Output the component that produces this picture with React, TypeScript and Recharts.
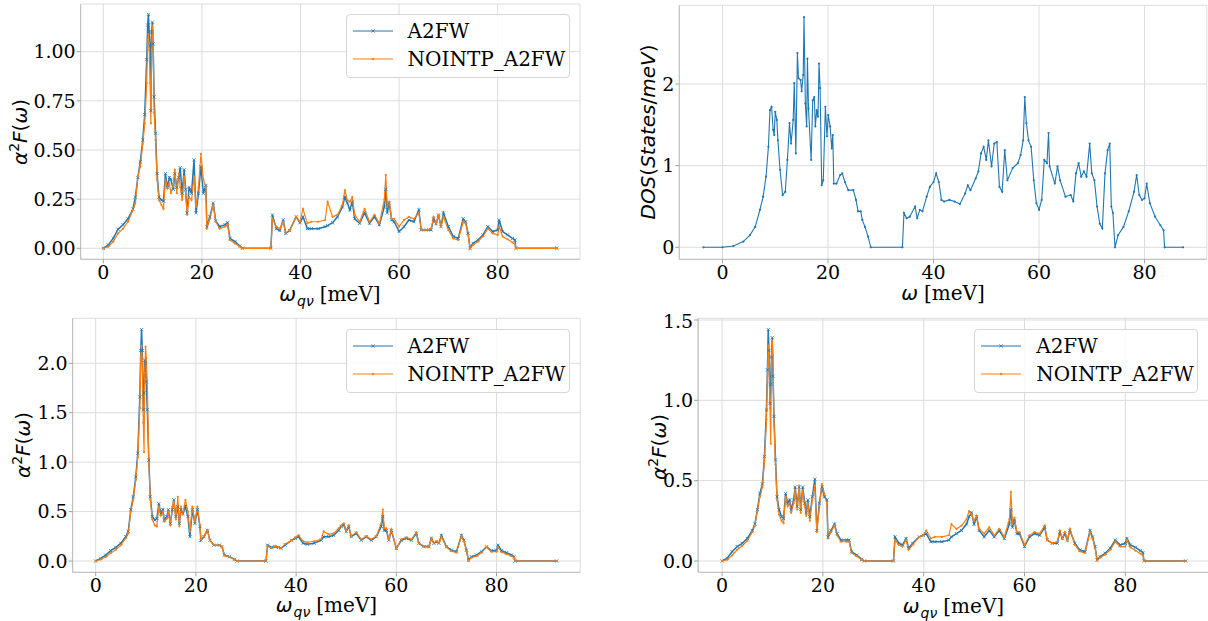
import React from 'react';
import { LineChart, Line, XAxis, YAxis, CartesianGrid } from 'recharts';

// ---------- data ----------
const omegaQv = [
  0, 1, 2, 3, 4, 5, 6, 6.5, 7, 7.5,
  8, 8.4, 8.8, 9.0, 9.15, 9.3, 9.5, 9.65, 9.8, 9.95,
  10.1, 10.3, 10.6, 10.9, 11.3, 11.8, 12.2, 12.6, 13.0, 13.4,
  13.7, 14.2, 14.5, 14.9, 15.3, 15.6, 16.0, 16.4, 16.7, 17.0,
  17.4, 17.9, 18.4, 18.8, 19.3, 19.8, 20.3, 20.8, 21.0, 21.6,
  22.3, 22.8, 23.6, 24.7, 25.2, 25.7, 26.7, 27.7, 28.2, 34.0,
  34.3, 35.1, 35.8, 36.5, 37.0, 37.8, 39.1, 39.9, 40.5, 41.4,
  42.2, 43.6, 45.0, 45.5, 46.5, 47.5, 48.5, 49.0, 49.5, 50.0,
  50.5, 51.0, 52.0, 53.0, 54.0, 55.0, 56.0, 57.0, 57.3, 57.6,
  58.0, 58.5, 59.0, 60.0, 61.0, 62.0, 63.0, 64.0, 64.5, 65.5,
  66.5, 67.0, 67.5, 68.0, 68.5, 69.0, 70.0, 71.0, 72.0, 73.0,
  73.5, 74.0, 74.4, 75.0, 76.0, 77.0, 78.0, 79.0, 80.0, 80.3,
  81.0, 82.0, 83.0, 83.5, 83.7, 92.0,
];

const a2fwTopLeft = [
  0, 0.017, 0.05, 0.097, 0.12, 0.15, 0.2, 0.26, 0.36, 0.44,
  0.55, 0.68, 0.96, 1.135, 1.19, 1.10, 1.03, 0.70, 1.10, 1.15,
  1.04, 0.77, 0.585, 0.38, 0.26, 0.245, 0.24, 0.38, 0.31, 0.36,
  0.35, 0.30, 0.38, 0.31, 0.36, 0.41, 0.28, 0.40, 0.30, 0.18,
  0.31, 0.28, 0.45, 0.18, 0.28, 0.415, 0.28, 0.32, 0.11, 0.16,
  0.23, 0.14, 0.11, 0.12, 0.13, 0.05, 0.034, 0.012, 0, 0,
  0.17, 0.10, 0.09, 0.145, 0.076, 0.09, 0.16, 0.13, 0.16, 0.10,
  0.10, 0.10, 0.11, 0.115, 0.13, 0.16, 0.21, 0.26, 0.23, 0.195,
  0.237, 0.15, 0.127, 0.18, 0.127, 0.16, 0.12, 0.21, 0.30, 0.18,
  0.23, 0.144, 0.135, 0.085, 0.11, 0.144, 0.135, 0.195, 0.093, 0.093,
  0.093, 0.15, 0.125, 0.17, 0.11, 0.18, 0.11, 0.06, 0.05, 0.15,
  0.135, 0.076, 0, 0.025, 0.042, 0.068, 0.11, 0.085, 0.093, 0.144,
  0.085, 0.068, 0.05, 0.042, 0, 0,
];
const nointpTopLeft = [
  0, 0.008, 0.034, 0.076, 0.10, 0.135, 0.195, 0.23, 0.365, 0.415,
  0.53, 0.635, 0.84, 1.06, 1.09, 1.01, 0.84, 0.635, 1.01, 1.13,
  1.09, 0.69, 0.55, 0.35, 0.245, 0.22, 0.20, 0.35, 0.305, 0.33,
  0.28, 0.32, 0.40, 0.28, 0.38, 0.31, 0.245, 0.365, 0.29, 0.17,
  0.26, 0.245, 0.365, 0.21, 0.31, 0.48, 0.35, 0.31, 0.10, 0.15,
  0.22, 0.135, 0.10, 0.11, 0.12, 0.042, 0.025, 0.008, 0, 0,
  0.15, 0.11, 0.10, 0.135, 0.076, 0.093, 0.16, 0.135, 0.20, 0.127,
  0.135, 0.135, 0.144, 0.237, 0.16, 0.17, 0.22, 0.296, 0.245, 0.237,
  0.26, 0.17, 0.135, 0.20, 0.135, 0.17, 0.127, 0.245, 0.373, 0.21,
  0.237, 0.15, 0.15, 0.11, 0.144, 0.16, 0.15, 0.18, 0.093, 0.093,
  0.10, 0.16, 0.127, 0.17, 0.11, 0.16, 0.093, 0.05, 0.042, 0.135,
  0.127, 0.068, 0, 0.017, 0.034, 0.06, 0.10, 0.076, 0.068, 0.11,
  0.06, 0.046, 0.029, 0.02, 0, 0,
];

const a2fwBottomLeft = [
  0, 0.027, 0.06, 0.105, 0.138, 0.18, 0.246, 0.30, 0.52, 0.65,
  0.85, 1.09, 1.66, 2.13, 2.34, 2.13, 1.53, 1.70, 2.03, 2.0,
  1.81, 1.53, 1.02, 0.65, 0.45, 0.415, 0.43, 0.58, 0.48, 0.52,
  0.415, 0.45, 0.52, 0.38, 0.52, 0.62, 0.45, 0.55, 0.38, 0.52,
  0.48, 0.55, 0.45, 0.246, 0.52, 0.38, 0.52, 0.35, 0.21, 0.246,
  0.31, 0.21, 0.16, 0.16, 0.145, 0.06, 0.044, 0.017, 0, 0,
  0.16, 0.138, 0.145, 0.138, 0.128, 0.16, 0.21, 0.23, 0.246, 0.18,
  0.17, 0.18, 0.21, 0.246, 0.246, 0.26, 0.31, 0.35, 0.365, 0.30,
  0.35, 0.246, 0.28, 0.21, 0.246, 0.21, 0.246, 0.35, 0.45, 0.31,
  0.31, 0.21, 0.31, 0.128, 0.21, 0.23, 0.21, 0.28, 0.18, 0.145,
  0.145, 0.23, 0.18, 0.195, 0.18, 0.26, 0.145, 0.11, 0.094, 0.26,
  0.21, 0.11, 0.01, 0.044, 0.06, 0.094, 0.145, 0.105, 0.11, 0.16,
  0.105, 0.084, 0.06, 0.044, 0, 0,
];
const nointpBottomLeft = [
  0, 0.015, 0.04, 0.08, 0.115, 0.16, 0.23, 0.28, 0.50, 0.62,
  0.82, 1.05, 1.55, 2.05, 2.18, 2.0, 1.4, 1.10, 1.90, 2.17,
  2.05, 1.80, 1.0, 0.62, 0.42, 0.36, 0.35, 0.55, 0.46, 0.50,
  0.40, 0.43, 0.50, 0.36, 0.55, 0.60, 0.42, 0.65, 0.35, 0.55,
  0.47, 0.62, 0.50, 0.30, 0.55, 0.40, 0.55, 0.36, 0.22, 0.25,
  0.31, 0.21, 0.16, 0.16, 0.14, 0.055, 0.04, 0.015, 0, 0,
  0.15, 0.13, 0.15, 0.14, 0.13, 0.17, 0.21, 0.24, 0.26, 0.20,
  0.19, 0.20, 0.22, 0.30, 0.27, 0.28, 0.33, 0.36, 0.38, 0.31,
  0.36, 0.25, 0.29, 0.22, 0.25, 0.22, 0.25, 0.38, 0.52, 0.33,
  0.33, 0.22, 0.32, 0.13, 0.22, 0.24, 0.22, 0.29, 0.18, 0.15,
  0.15, 0.23, 0.18, 0.20, 0.18, 0.24, 0.14, 0.10, 0.085, 0.25,
  0.20, 0.10, 0.005, 0.035, 0.05, 0.085, 0.14, 0.095, 0.095, 0.14,
  0.09, 0.07, 0.05, 0.035, 0, 0,
];

const a2fwBottomRight = [
  0, 0.017, 0.058, 0.09, 0.11, 0.14, 0.19, 0.23, 0.32, 0.42,
  0.48, 0.65, 0.94, 1.19, 1.44, 1.31, 0.98, 1.10, 1.27, 1.39,
  1.15, 0.90, 0.63, 0.40, 0.32, 0.276, 0.265, 0.42, 0.36, 0.38,
  0.32, 0.38, 0.46, 0.34, 0.46, 0.32, 0.46, 0.36, 0.30, 0.38,
  0.276, 0.40, 0.51, 0.19, 0.36, 0.46, 0.40, 0.38, 0.15, 0.19,
  0.23, 0.17, 0.13, 0.13, 0.13, 0.058, 0.037, 0.01, 0, 0,
  0.15, 0.11, 0.10, 0.14, 0.08, 0.11, 0.15, 0.16, 0.17, 0.12,
  0.12, 0.12, 0.13, 0.15, 0.17, 0.19, 0.23, 0.276, 0.30, 0.23,
  0.276, 0.19, 0.15, 0.19, 0.15, 0.19, 0.14, 0.23, 0.32, 0.21,
  0.255, 0.17, 0.17, 0.09, 0.15, 0.17, 0.16, 0.21, 0.13, 0.11,
  0.11, 0.18, 0.14, 0.17, 0.13, 0.19, 0.11, 0.068, 0.058, 0.19,
  0.15, 0.09, 0.006, 0.027, 0.048, 0.08, 0.13, 0.10, 0.11, 0.14,
  0.10, 0.085, 0.064, 0.052, 0, 0,
];
const nointpBottomRight = [
  0, 0.008, 0.035, 0.07, 0.095, 0.125, 0.18, 0.22, 0.31, 0.40,
  0.46, 0.62, 0.88, 1.15, 1.34, 1.25, 0.95, 0.73, 1.22, 1.37,
  1.28, 0.85, 0.60, 0.38, 0.29, 0.25, 0.235, 0.40, 0.34, 0.36,
  0.30, 0.36, 0.44, 0.32, 0.47, 0.30, 0.44, 0.34, 0.28, 0.36,
  0.25, 0.38, 0.47, 0.18, 0.34, 0.48, 0.42, 0.36, 0.14, 0.18,
  0.22, 0.16, 0.12, 0.12, 0.12, 0.05, 0.03, 0.008, 0, 0,
  0.13, 0.10, 0.09, 0.13, 0.07, 0.10, 0.15, 0.16, 0.19, 0.14,
  0.15, 0.15, 0.16, 0.23, 0.20, 0.22, 0.26, 0.31, 0.29, 0.25,
  0.28, 0.20, 0.17, 0.21, 0.16, 0.20, 0.15, 0.26, 0.43, 0.23,
  0.27, 0.18, 0.18, 0.10, 0.16, 0.18, 0.17, 0.22, 0.13, 0.11,
  0.12, 0.19, 0.14, 0.18, 0.13, 0.20, 0.10, 0.06, 0.05, 0.18,
  0.14, 0.08, 0.004, 0.02, 0.04, 0.07, 0.12, 0.09, 0.09, 0.13,
  0.085, 0.065, 0.045, 0.035, 0, 0,
];

const dosOmega = [
  -3.6, 0, 2.05, 3.95, 5.2, 6.2, 7.1, 7.7, 8.25, 8.7,
  9.0, 9.3, 9.6, 9.8, 10.0, 10.3, 10.5, 10.9, 11.4, 11.9,
  12.3, 12.7, 13.0, 13.4, 13.6, 13.9, 14.2, 14.4, 14.8, 15.0,
  15.3, 15.45, 15.7, 15.95, 16.1, 16.3, 16.8, 17.1, 17.4, 17.6,
  17.85, 18.1, 18.3, 18.5, 18.8, 19.1, 19.5, 19.8, 20.05, 20.4,
  20.7, 20.9, 21.1, 21.6, 22.3, 22.7, 23.2, 23.85, 24.8, 25.3,
  25.7, 26.2, 26.5, 27.0, 27.6, 28.1, 34.1, 34.4, 34.9, 35.5,
  36.5, 36.9, 37.4, 37.9, 38.7, 39.3, 40.0, 40.5, 41.0, 41.5,
  42.0, 43.0, 44.0, 45.0, 46.0, 46.5, 47.0, 48.0, 48.5, 49.0,
  49.5, 50.0, 50.4, 51.0, 51.5, 52.0, 52.5, 53.0, 53.5, 54.0,
  55.0, 56.0, 56.5, 57.0, 57.3, 57.6, 58.0, 58.5, 59.0, 59.5,
  60.0, 60.5, 61.0, 61.5, 61.8, 62.0, 63.0, 63.5, 64.0, 65.0,
  66.0, 66.5, 67.0, 67.5, 68.0, 68.5, 69.0, 69.6, 70.0, 70.5,
  71.0, 71.5, 72.0, 72.5, 73.0, 73.4, 73.7, 74.0, 74.4, 75.0,
  76.0, 77.0, 78.0, 78.5, 79.0, 79.5, 80.0, 80.4, 81.0, 82.0,
  83.0, 83.6, 83.8, 87.3,
];
const dosValues = [
  0, 0, 0.016, 0.07, 0.15, 0.25, 0.46, 0.62, 0.865, 1.23,
  1.68, 1.72, 1.44, 1.375, 1.66, 1.56, 1.31, 0.95, 0.64, 0.68,
  1.07, 1.52, 1.27, 1.56, 2.01, 1.15, 2.38, 2.07, 2.05, 1.91,
  2.11, 2.82, 1.76, 1.48, 2.31, 1.70, 1.07, 1.80, 1.84, 1.48,
  1.68, 1.60, 2.25, 1.95, 0.76, 0.82, 1.72, 1.36, 1.62, 1.48,
  1.21, 1.375, 0.78, 0.78, 0.885, 0.905, 0.80, 0.70, 0.70, 0.58,
  0.44, 0.44, 0.335, 0.25, 0.13, 0, 0, 0.42, 0.355, 0.375,
  0.50, 0.355, 0.46, 0.44, 0.62, 0.74, 0.80, 0.905, 0.80, 0.58,
  0.56, 0.58, 0.56, 0.53, 0.66, 0.76, 0.70, 0.845, 0.93, 1.15,
  1.23, 1.07, 1.31, 0.99, 1.27, 1.29, 0.74, 0.68, 1.19, 0.82,
  0.97, 1.03, 1.13, 1.31, 1.84, 1.52, 1.31, 1.23, 0.82, 0.54,
  0.46, 0.58, 1.07, 1.03, 1.40, 0.99, 0.78, 0.99, 0.82, 0.62,
  0.64, 0.56, 0.905, 1.03, 0.865, 0.93, 0.865, 1.27, 0.905, 0.82,
  0.50, 0.29, 0.23, 0.905, 1.19, 1.27, 0.50, 0.42, 0, 0.15,
  0.25, 0.44, 0.68, 0.885, 0.64, 0.58, 0.60, 0.78, 0.54, 0.375,
  0.27, 0.21, 0, 0,
];

const xTicks = [0, 20, 40, 60, 80];
const yTicksTopLeft = [0, 0.25, 0.5, 0.75, 1.0];
const yTicksDos = [0, 1, 2];
const yTicksBottomLeft = [0, 0.5, 1.0, 1.5, 2.0];
const yTicksBottomRight = [0, 0.5, 1.0, 1.5];
const seriesNames = ['A2FW', 'NOINTP_A2FW'];

// ---------- styles ----------
const BLUE = '#1f77b4';
const ORANGE = '#ff7f0e';
const FRAME = '#bdbdbd';
const GRID = '#dcdcdc';
const SERIF = '"DejaVu Serif", serif';
const SANS = '"DejaVu Sans", sans-serif';

const tickStyle = { fontFamily: SERIF, fontSize: 19, fill: '#000' };

const buildPair = (a: number[], b: number[]) =>
  omegaQv.map((w, i) => ({ w, a: a[i], b: b[i] }));

const dataTopLeft = buildPair(a2fwTopLeft, nointpTopLeft);
const dataBottomLeft = buildPair(a2fwBottomLeft, nointpBottomLeft);
const dataBottomRight = buildPair(a2fwBottomRight, nointpBottomRight);
const dataDos = dosOmega.map((w, i) => ({ w, a: dosValues[i] }));

const xMark = (color: string) => (p: any) => {
  const { cx, cy, index } = p;
  if (cx == null || cy == null) return <g key={`x-${index}`} />;
  const s = 1.6;
  return (
    <path
      key={`x-${index}`}
      d={`M${cx - s},${cy - s}L${cx + s},${cy + s}M${cx - s},${cy + s}L${cx + s},${cy - s}`}
      stroke={color}
      strokeWidth={0.8}
      fill="none"
    />
  );
};
const dotMark = (color: string) => (p: any) => {
  const { cx, cy, index } = p;
  if (cx == null || cy == null) return <g key={`d-${index}`} />;
  return <circle key={`d-${index}`} cx={cx} cy={cy} r={1.1} fill={color} stroke="none" />;
};

type PanelProps = {
  left: number;
  top: number;
  width: number;
  height: number;
  margin: { top: number; right: number; bottom: number; left: number };
  yWidth: number;
  xHeight: number;
  data: any[];
  pair: boolean;
  xDomain: [number, number];
  yDomain: [number, number];
  yTicks: number[];
  yFmt: (v: number) => string;
};

function Panel(p: PanelProps) {
  return (
    <div style={{ position: 'absolute', left: p.left, top: p.top }}>
      <LineChart width={p.width} height={p.height} data={p.data} margin={p.margin}>
        <CartesianGrid stroke={GRID} strokeWidth={1} />
        <XAxis
          dataKey="w"
          type="number"
          domain={p.xDomain}
          ticks={xTicks}
          allowDataOverflow
          height={p.xHeight}
          tick={tickStyle}
          tickSize={4}
          tickMargin={2}
          tickLine={{ stroke: '#a0a0a0' }}
          axisLine={{ stroke: FRAME }}
          tickFormatter={(v: number) => String(v)}
        />
        <XAxis
          xAxisId="top"
          orientation="top"
          type="number"
          domain={p.xDomain}
          allowDataOverflow
          height={0}
          tick={false}
          tickLine={false}
          axisLine={{ stroke: FRAME }}
        />
        <YAxis
          type="number"
          domain={p.yDomain}
          ticks={p.yTicks}
          allowDataOverflow
          width={p.yWidth}
          tick={tickStyle}
          tickSize={4}
          tickMargin={1}
          tickLine={{ stroke: '#a0a0a0' }}
          axisLine={{ stroke: FRAME }}
          tickFormatter={p.yFmt}
        />
        <YAxis
          yAxisId="right"
          orientation="right"
          type="number"
          domain={p.yDomain}
          allowDataOverflow
          width={0}
          tick={false}
          tickLine={false}
          axisLine={{ stroke: FRAME }}
        />
        <Line
          type="linear"
          dataKey="a"
          name={seriesNames[0]}
          stroke={BLUE}
          strokeWidth={p.pair ? 1.5 : 1.1}
          dot={p.pair ? xMark(BLUE) : dotMark(BLUE)}
          isAnimationActive={false}
        />
        {p.pair && (
          <Line
            type="linear"
            dataKey="b"
            name={seriesNames[1]}
            stroke={ORANGE}
            strokeWidth={1.2}
            dot={dotMark(ORANGE)}
            isAnimationActive={false}
          />
        )}
      </LineChart>
    </div>
  );
}

function LegendBox({ left, top }: { left: number; top: number }) {
  const rows = [
    { name: seriesNames[0], color: BLUE, marker: 'x' },
    { name: seriesNames[1], color: ORANGE, marker: 'dot' },
  ];
  return (
    <div
      style={{
        position: 'absolute',
        left,
        top,
        width: 222,
        height: 62,
        border: '1px solid #d6d6d6',
        borderRadius: 4,
        background: 'rgba(255,255,255,0.85)',
      }}
    >
      {rows.map((r, i) => (
        <div
          key={r.name}
          style={{ position: 'absolute', left: 0, top: 2 + i * 28, height: 28, width: 222 }}
        >
          <svg width={50} height={28} style={{ position: 'absolute', left: 0, top: 0 }}>
            <line x1={6} y1={14} x2={46} y2={14} stroke={r.color} strokeWidth={1.2} />
            {r.marker === 'x' ? (
              <path d="M24.4,12.4L27.6,15.6M24.4,15.6L27.6,12.4" stroke={r.color} strokeWidth={0.8} />
            ) : (
              <circle cx={26} cy={14} r={1.2} fill={r.color} />
            )}
          </svg>
          <div
            style={{
              position: 'absolute',
              left: 61,
              top: 0,
              height: 28,
              lineHeight: '28px',
              fontFamily: SERIF,
              fontSize: 20,
              color: '#000',
              whiteSpace: 'nowrap',
            }}
          >
            {r.name}
          </div>
        </div>
      ))}
    </div>
  );
}

function XLabel({ cx, cy, plain }: { cx: number; cy: number; plain?: boolean }) {
  return (
    <div
      style={{
        position: 'absolute',
        left: cx,
        top: cy,
        transform: 'translate(-50%, -50%)',
        whiteSpace: 'nowrap',
        fontSize: 20,
        lineHeight: '18px',
        color: '#000',
      }}
    >
      <span style={{ fontFamily: SANS, fontStyle: 'italic' }}>ω</span>
      {!plain && (
        <span
          style={{
            fontFamily: SANS,
            fontStyle: 'italic',
            fontSize: 14,
            lineHeight: '14px',
            position: 'relative',
            top: 5,
            marginLeft: 1,
          }}
        >
          qν
        </span>
      )}
      <span style={{ fontFamily: SERIF, marginLeft: 6 }}>[meV]</span>
    </div>
  );
}

function A2FLabel({ cx, cy }: { cx: number; cy: number }) {
  return (
    <div
      style={{
        position: 'absolute',
        left: cx,
        top: cy,
        transform: 'translate(-50%, -50%) rotate(-90deg)',
        whiteSpace: 'nowrap',
        fontFamily: SANS,
        fontSize: 20,
        lineHeight: '20px',
        color: '#000',
      }}
    >
      <span style={{ fontStyle: 'italic' }}>α</span>
      <span style={{ fontSize: 14, lineHeight: '14px', position: 'relative', top: -8 }}>2</span>
      <span style={{ fontStyle: 'italic' }}>F</span>
      <span>(</span>
      <span style={{ fontStyle: 'italic' }}>ω</span>
      <span>)</span>
    </div>
  );
}

function DosLabel({ cx, cy }: { cx: number; cy: number }) {
  return (
    <div
      style={{
        position: 'absolute',
        left: cx,
        top: cy,
        transform: 'translate(-50%, -50%) rotate(-90deg)',
        whiteSpace: 'nowrap',
        fontFamily: SANS,
        fontSize: 20,
        lineHeight: '20px',
        color: '#000',
      }}
    >
      <span style={{ fontStyle: 'italic' }}>DOS</span>
      <span>(</span>
      <span style={{ fontStyle: 'italic' }}>States</span>
      <span>/</span>
      <span style={{ fontStyle: 'italic' }}>meV</span>
      <span>)</span>
    </div>
  );
}

export default function App() {
  return (
    <div
      style={{
        position: 'absolute',
        left: 0,
        top: 0,
        width: 1208,
        height: 621,
        overflow: 'hidden',
        background: '#fff',
      }}
    >
      <Panel
        left={0}
        top={0}
        width={600}
        height={310}
        margin={{ top: 4, right: 20, bottom: 0, left: 0 }}
        yWidth={80.7}
        xHeight={50.7}
        data={dataTopLeft}
        pair
        xDomain={[-4.59, 96.7]}
        yDomain={[-0.056, 1.2426]}
        yTicks={yTicksTopLeft}
        yFmt={(v) => v.toFixed(2)}
      />
      <Panel
        left={600}
        top={0}
        width={608}
        height={310}
        margin={{ top: 5.3, right: 1.2, bottom: 0, left: 0 }}
        yWidth={79.3}
        xHeight={50.7}
        data={dataDos}
        pair={false}
        xDomain={[-8.19, 91.8]}
        yDomain={[-0.147, 2.964]}
        yTicks={yTicksDos}
        yFmt={(v) => String(Math.round(v))}
      />
      <Panel
        left={0}
        top={310}
        width={600}
        height={311}
        margin={{ top: 8.3, right: 19.8, bottom: 0, left: 0 }}
        yWidth={72.7}
        xHeight={48.7}
        data={dataBottomLeft}
        pair
        xDomain={[-4.59, 96.7]}
        yDomain={[-0.114, 2.455]}
        yTicks={yTicksBottomLeft}
        yFmt={(v) => v.toFixed(1)}
      />
      <Panel
        left={600}
        top={310}
        width={610}
        height={311}
        margin={{ top: 8.3, right: 1, bottom: 0, left: 0 }}
        yWidth={98.1}
        xHeight={48.7}
        data={dataBottomRight}
        pair
        xDomain={[-4.76, 96.6]}
        yDomain={[-0.0703, 1.5106]}
        yTicks={yTicksBottomRight}
        yFmt={(v) => v.toFixed(1)}
      />

      <LegendBox left={345.6} top={14.3} />
      <LegendBox left={345.6} top={329} />
      <LegendBox left={974.2} top={329} />

      <XLabel cx={330} cy={293.5} />
      <XLabel cx={943} cy={292.5} plain />
      <XLabel cx={326.5} cy={605} />
      <XLabel cx={953.5} cy={606} />

      <A2FLabel cx={20} cy={131.5} />
      <DosLabel cx={648} cy={132} />
      <A2FLabel cx={23} cy={445} />
      <A2FLabel cx={658.5} cy={446.7} />
    </div>
  );
}
